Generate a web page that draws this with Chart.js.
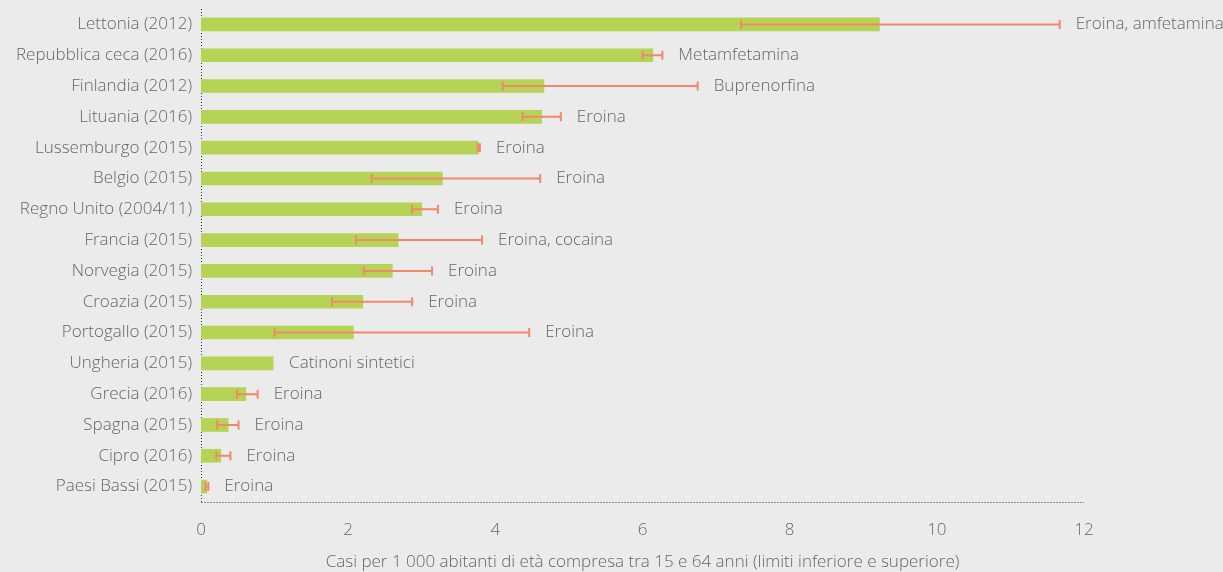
<!DOCTYPE html>
<html>
<head>
<meta charset="utf-8">
<script src="https://cdn.jsdelivr.net/npm/chart.js@4"></script>
<style>
    body { margin: 0; background: #ebebeb; }
    #wrap { width: 1223px; height: 572px; position: relative; }
</style>
</head>
<body>
<div id="wrap"><canvas id="myChart"></canvas></div>
<script>
let countries = ['Lettonia (2012)', 'Repubblica ceca (2016)', 'Finlandia (2012)', 'Lituania (2016)',
    'Lussemburgo (2015)', 'Belgio (2015)', 'Regno Unito (2004/11)', 'Francia (2015)', 'Norvegia (2015)',
    'Croazia (2015)', 'Portogallo (2015)', 'Ungheria (2015)', 'Grecia (2016)', 'Spagna (2015)',
    'Cipro (2016)', 'Paesi Bassi (2015)']
let estimates = [9.22, 6.14, 4.66, 4.63, 3.77, 3.28, 3.0, 2.68, 2.6, 2.2, 2.07, 0.98, 0.61, 0.37, 0.27, 0.08]
let lowerLimits = [7.34, 6.0, 4.10, 4.37, 3.76, 2.32, 2.87, 2.11, 2.21, 1.78, 1.0, null, 0.49, 0.22, 0.21, 0.06]
let upperLimits = [11.67, 6.27, 6.75, 4.89, 3.79, 4.61, 3.22, 3.82, 3.14, 2.87, 4.46, null, 0.77, 0.51, 0.40, 0.10]
let drugs = ['Eroina, amfetamina', 'Metamfetamina', 'Buprenorfina', 'Eroina', 'Eroina', 'Eroina', 'Eroina',
    'Eroina, cocaina', 'Eroina', 'Eroina', 'Eroina', 'Catinoni sintetici', 'Eroina', 'Eroina', 'Eroina', 'Eroina']
let xTicks = [0, 2, 4, 6, 8, 10, 12]

let textColor = '#666666'
let fontFamily = '"Open Sans", Roboto, sans-serif'
let baseFont = { size: 17, family: fontFamily, weight: 300 }

// dotted axis lines (border.dash only affects grid lines in v4)
let dottedAxesPlugin = {
    id: 'dottedAxes',
    beforeDatasetsDraw(chart) {
        let ctx = chart.ctx
        let area = chart.chartArea
        let left = Math.round(area.left) + 0.5
        let bottom = Math.round(area.bottom) + 0.5
        ctx.save()
        ctx.strokeStyle = '#333333'
        ctx.lineWidth = 1
        ctx.setLineDash([1, 2])
        ctx.beginPath()
        ctx.moveTo(left, area.top)
        ctx.lineTo(left, bottom)
        ctx.moveTo(left, bottom)
        ctx.lineTo(area.right, bottom)
        ctx.stroke()
        ctx.restore()
    }
}

// error bars and drug labels, drawn after the bars
let errorBarsPlugin = {
    id: 'errorBars',
    afterDatasetsDraw(chart) {
        let ctx = chart.ctx
        let xScale = chart.scales.x
        let yScale = chart.scales.y
        ctx.save()
        for (let i = 0; i < countries.length; i++) {
            let y = yScale.getPixelForValue(i)
            if (lowerLimits[i] !== null) {
                let x1 = xScale.getPixelForValue(lowerLimits[i])
                let x2 = xScale.getPixelForValue(upperLimits[i])
                ctx.strokeStyle = '#f4876a'
                ctx.lineWidth = 2
                ctx.beginPath()
                ctx.moveTo(x1, y)
                ctx.lineTo(x2, y)
                ctx.moveTo(x1, y - 4.5)
                ctx.lineTo(x1, y + 4.5)
                ctx.moveTo(x2, y - 4.5)
                ctx.lineTo(x2, y + 4.5)
                ctx.stroke()
            }
            let end = Math.max(estimates[i], upperLimits[i] || 0)
            ctx.fillStyle = textColor
            ctx.font = '300 17px ' + fontFamily
            ctx.textAlign = 'left'
            ctx.textBaseline = 'middle'
            ctx.fillText(drugs[i], xScale.getPixelForValue(end) + 16, y)
        }
        ctx.restore()
    }
}

let ctx = document.getElementById('myChart').getContext('2d')
let chart = new Chart(ctx, {
    type: 'bar',
    data: {
        labels: countries,
        datasets: [{
            data: estimates,
            backgroundColor: '#b5d456',
            barThickness: 13
        }]
    },
    options: {
        indexAxis: 'y',
        responsive: true,
        maintainAspectRatio: false,
        animation: false,
        layout: { padding: { top: 9, right: 139, left: 0, bottom: 0 } },
        plugins: {
            legend: { display: false },
            tooltip: { enabled: false }
        },
        scales: {
            x: {
                min: 0,
                max: 12,
                afterBuildTicks(scale) {
                    scale.ticks = xTicks.map(v => ({ value: v }))
                },
                grid: { display: false, drawTicks: false },
                border: { display: false },
                ticks: { color: textColor, font: baseFont, padding: 18 },
                title: {
                    display: true,
                    text: 'Casi per 1 000 abitanti di età compresa tra 15 e 64 anni (limiti inferiore e superiore)',
                    color: textColor,
                    font: baseFont,
                    padding: { top: 4, bottom: 0 }
                },
                afterFit(scale) { scale.height = 70 }
            },
            y: {
                grid: { display: false, drawTicks: false },
                border: { display: false },
                ticks: { color: textColor, font: baseFont, padding: 9 },
                afterFit(scale) {
                    scale.width = 201
                    scale.paddingTop = 0
                    scale.paddingBottom = 0
                }
            }
        }
    },
    plugins: [dottedAxesPlugin, errorBarsPlugin]
})
</script>
</body>
</html>
